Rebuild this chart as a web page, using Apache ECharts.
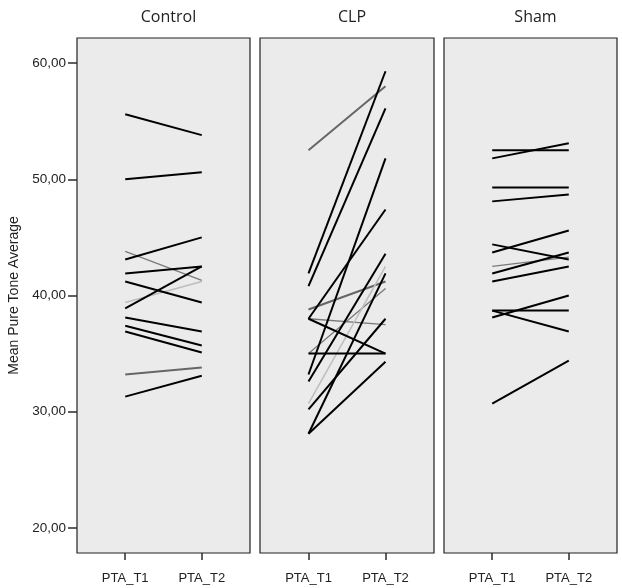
<!DOCTYPE html>
<html>
<head>
<meta charset="utf-8">
<script src="https://cdn.jsdelivr.net/npm/echarts@6/dist/echarts.min.js"></script>
<style>
html,body{margin:0;padding:0;background:#fff;}
#chart{width:622px;height:588px;}
</style>
</head>
<body>
<div id="chart"></div>
<script>
// ---- data ----
var panelNames = ['Control', 'CLP', 'Sham'];
var timeLabels = ['PTA_T1', 'PTA_T2'];
var yTicks = [20, 30, 40, 50, 60];

var controlT1 = [55.6, 50.0, 43.1, 43.8, 41.9, 41.2, 39.4, 38.9, 38.1, 37.4, 36.9, 33.2, 31.3];
var controlT2 = [53.8, 50.6, 45.0, 41.3, 42.5, 39.4, 41.2, 42.5, 36.9, 35.7, 35.1, 33.8, 33.1];
var controlShade = ['k','k','k','g2','k','k','g3','k','k','k','k','g1','k'];

var clpT1 = [52.5, 41.9, 40.8, 38.8, 38.0, 38.0, 38.0, 35.0, 35.0, 33.2, 32.6, 30.7, 30.2, 28.1, 28.1];
var clpT2 = [58.0, 59.3, 56.1, 41.2, 35.0, 37.5, 47.4, 35.0, 40.6, 51.8, 43.6, 42.5, 38.0, 41.9, 34.3];
var clpShade = ['g1','k','k','g1','k','g2','k','k','g2','k','k','g3','k','k','k'];

var shamT1 = [52.5, 51.8, 49.3, 48.1, 44.4, 43.7, 42.5, 41.9, 41.2, 38.7, 38.7, 38.1, 30.7];
var shamT2 = [52.5, 53.1, 49.3, 48.7, 43.1, 45.6, 43.3, 43.7, 42.5, 38.7, 36.9, 40.0, 34.4];
var shamShade = ['k','k','k','k','k','k','g2','k','k','k','k','k','k'];

// ---- styles ----
var shadeStyle = {
  k:  {color: '#000000', width: 2},
  g1: {color: '#666666', width: 2},
  g2: {color: '#7a7a7a', width: 1.3},
  g3: {color: '#bdbdbd', width: 1.5}
};

var groups = [
  {t1: controlT1, t2: controlT2, shade: controlShade},
  {t1: clpT1, t2: clpT2, shade: clpShade},
  {t1: shamT1, t2: shamT2, shade: shamShade}
];

var gridPos = [
  {left: 77, width: 173},
  {left: 260, width: 174},
  {left: 444, width: 173}
];

var grids = [], xAxes = [], yAxes = [], series = [], titles = [];
var yMin = 17.84, yMax = 62.16;

gridPos.forEach(function (g, i) {
  grids.push({
    left: g.left, width: g.width, top: 38, bottom: 35,
    show: true, backgroundColor: '#ebebeb', borderColor: '#222222', borderWidth: 1.2
  });
  xAxes.push({
    type: 'value', gridIndex: i, min: -0.63, max: 1.63, position: 'bottom',
    axisLine: {show: false, onZero: false},
    splitLine: {show: false},
    axisTick: {show: true, length: 7, customValues: [0, 1], lineStyle: {color: '#2b2b2b', width: 1.5}},
    axisLabel: {
      show: true, customValues: [0, 1], margin: 19,
      fontFamily: 'Liberation Sans, Arial', fontSize: 13, color: '#222',
      formatter: function (v) { return timeLabels[Math.round(v)]; }
    }
  });
  var isFirst = i === 0;
  yAxes.push({
    type: 'value', gridIndex: i, min: yMin, max: yMax, position: 'left',
    axisLine: {show: false, onZero: false},
    splitLine: {show: false},
    axisTick: {show: isFirst, length: 9, customValues: yTicks, lineStyle: {color: '#2b2b2b', width: 1.5}},
    axisLabel: {
      show: isFirst, customValues: yTicks, margin: 11,
      fontFamily: 'Liberation Sans, Arial', fontSize: 13.5, color: '#222',
      formatter: function (v) { return v.toFixed(2).replace('.', ','); }
    },
    name: isFirst ? 'Mean Pure Tone Average' : '',
    nameLocation: 'middle', nameGap: 56, nameRotate: 90,
    nameTextStyle: {fontFamily: 'Liberation Sans, Arial', fontSize: 14, color: '#222'}
  });
  titles.push({
    text: panelNames[i], left: g.left + g.width / 2, top: 4, textAlign: 'center',
    textStyle: {fontFamily: 'Open Sans', fontSize: 16, fontWeight: 'normal', color: '#222'}
  });
  var grp = groups[i];
  for (var k = 0; k < grp.t1.length; k++) {
    var st = shadeStyle[grp.shade[k]];
    series.push({
      type: 'line', xAxisIndex: i, yAxisIndex: i,
      data: [[0, grp.t1[k]], [1, grp.t2[k]]],
      symbol: 'none', silent: true,
      z: grp.shade[k] === 'k' ? 3 : 2,
      lineStyle: {color: st.color, width: st.width}
    });
  }
});

var chart = echarts.init(document.getElementById('chart'), null, {renderer: 'canvas'});
chart.setOption({
  animation: false,
  backgroundColor: '#ffffff',
  title: titles,
  grid: grids,
  xAxis: xAxes,
  yAxis: yAxes,
  series: series
});
</script>
</body>
</html>
